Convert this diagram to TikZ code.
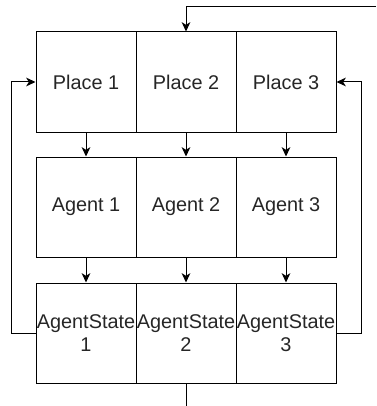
\documentclass[tikz,border=0pt]{standalone}
\usepackage{fontspec}
\setmainfont{Liberation Sans}
\usetikzlibrary{arrows.meta}

\begin{document}
\begin{tikzpicture}[x=0.75pt,y=0.75pt,yscale=-1,xscale=1]
\tikzset{cell/.style={draw, line width=0.75pt, minimum width=75pt, minimum height=75pt, inner sep=0pt, align=center, text=black!85, font=\fontsize{14.9}{17.5}\selectfont},
  flow/.style={line width=0.75pt, -{Stealth[length=7pt,width=6.5pt,inset=2pt]}},
  link/.style={line width=0.75pt}}

\useasboundingbox (0,0) rectangle (376,406);

% places
\node[cell] (place1) at (86,82) {Place 1};
\node[cell] (place2) at (186,82) {Place 2};
\node[cell] (place3) at (286,82) {Place 3};
% agents
\node[cell] (agent1) at (86,207) {Agent 1};
\node[cell] (agent2) at (186,207) {Agent 2};
\node[cell] (agent3) at (286,207) {Agent 3};
% agent states
\node[cell] (state1) at (86,333) {AgentState\\1};
\node[cell] (state2) at (186,333) {AgentState\\2};
\node[cell] (state3) at (286,333) {AgentState\\3};

\coordinate (in) at (376,7);
\coordinate (out) at (186,406);

\draw[flow] (in) -| (place2);
\foreach \i in {1,2,3} {
  \draw[flow] (place\i) -- (agent\i);
  \draw[flow] (agent\i) -- (state\i);
}
\draw[flow] (state1.west) -- ++(-24,0) |- (place1.west);
\draw[flow] (state3.east) -- ++(25,0) |- (place3.east);
\draw[link] (state2) -- (out);
\end{tikzpicture}
\end{document}
